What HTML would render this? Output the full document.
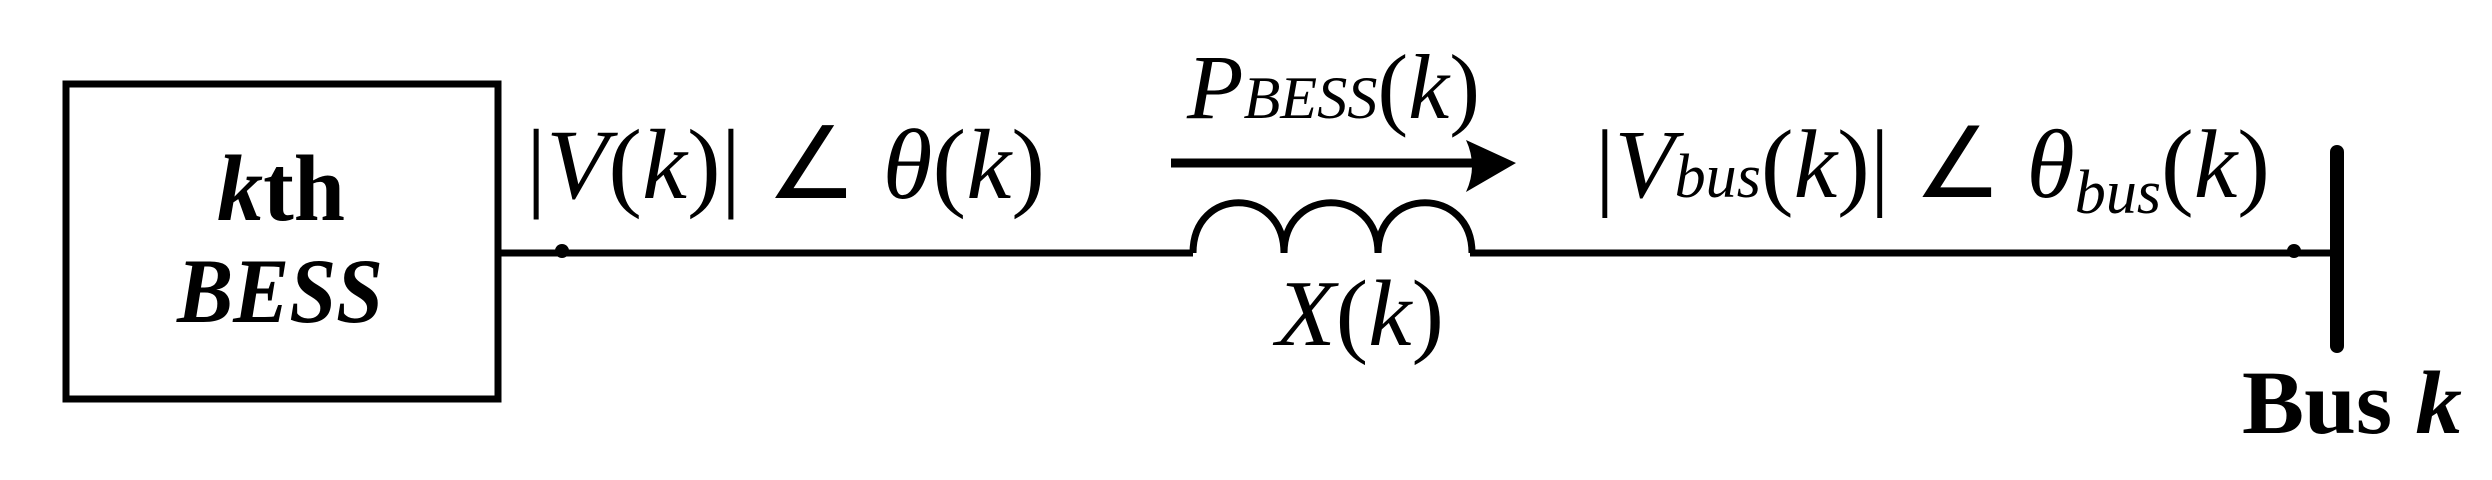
<!DOCTYPE html>
<html><head><meta charset="utf-8"><style>html,body{margin:0;padding:0;background:#fff}svg{display:block}</style></head>
<body>
<svg width="2492" height="480" viewBox="0 0 2492 480" xmlns="http://www.w3.org/2000/svg" font-family="'Liberation Serif', serif">
<rect x="66" y="84" width="432" height="315" fill="none" stroke="#000" stroke-width="7"/>
<text x="281" y="220" font-size="94" font-weight="bold" text-anchor="middle" textLength="128" lengthAdjust="spacingAndGlyphs"><tspan font-style="italic">k</tspan>th</text>
<text x="280" y="322" font-size="92" font-weight="bold" font-style="italic" text-anchor="middle" textLength="206" lengthAdjust="spacingAndGlyphs">BESS</text>
<line x1="498" y1="253" x2="1193" y2="253" stroke="#000" stroke-width="7"/>
<circle cx="562" cy="251" r="7"/>
<path d="M1193 253 C1193 186 1284 186 1284 253 C1284 186 1378 186 1378 253 C1378 186 1472 186 1472 253" fill="none" stroke="#000" stroke-width="7"/>
<line x1="1470" y1="253" x2="2340" y2="253" stroke="#000" stroke-width="7"/>
<circle cx="2294" cy="251" r="7"/>
<rect x="2330" y="145" width="14" height="208" rx="7" fill="#000"/>
<line x1="1171" y1="163" x2="1480" y2="163" stroke="#000" stroke-width="9"/>
<path d="M1466 140 L1516 163 L1466 192 Q1478 166 1466 140 Z" fill="#000"/>
<text x="526" y="198" font-size="100" textLength="519" lengthAdjust="spacingAndGlyphs">|<tspan font-style="italic">V</tspan>(<tspan font-style="italic">k</tspan>)| ∠ <tspan font-style="italic">θ</tspan>(<tspan font-style="italic">k</tspan>)</text>
<text x="1187" y="118" font-size="92" textLength="293" lengthAdjust="spacingAndGlyphs"><tspan font-style="italic">P</tspan><tspan font-style="italic" font-size="60">BESS</tspan>(<tspan font-style="italic">k</tspan>)</text>
<text x="1595" y="197" font-size="98" textLength="675" lengthAdjust="spacingAndGlyphs">|<tspan font-style="italic">V</tspan><tspan font-style="italic" font-size="62">bus</tspan>(<tspan font-style="italic">k</tspan>)| ∠ <tspan font-style="italic">θ</tspan><tspan font-style="italic" font-size="62" dy="16">bus</tspan><tspan dy="-16">(</tspan><tspan font-style="italic">k</tspan>)</text>
<text x="1276" y="345" font-size="94" textLength="168" lengthAdjust="spacingAndGlyphs"><tspan font-style="italic">X</tspan>(<tspan font-style="italic">k</tspan>)</text>
<text x="2242" y="433" font-size="90" font-weight="bold" textLength="220" lengthAdjust="spacingAndGlyphs">Bus <tspan font-style="italic">k</tspan></text>
</svg>
</body></html>
